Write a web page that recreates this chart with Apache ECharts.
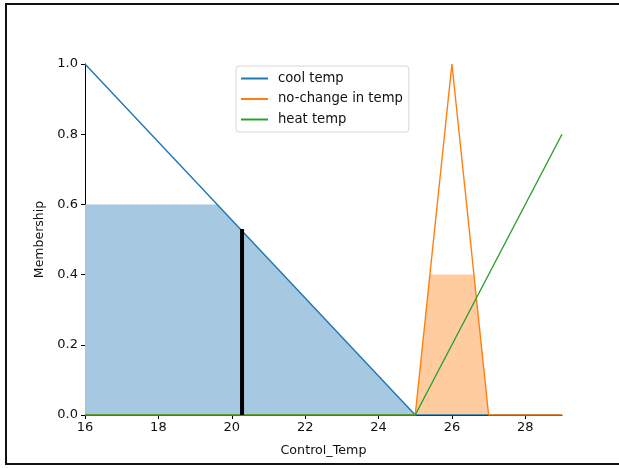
<!DOCTYPE html>
<html>
<head>
<meta charset="utf-8">
<script src="https://cdn.jsdelivr.net/npm/echarts@6/dist/echarts.min.js"></script>
<style>
  html, body { margin: 0; padding: 0; background: #fff; overflow: hidden; }
  #chart { width: 619px; height: 468px; }
</style>
</head>
<body>
<div id="chart"></div>
<script>
// membership functions of Control_Temp
var coolX = [16, 25, 29];
var coolY = [1, 0, 0];
var nochangeX = [16, 25, 26, 27, 29];
var nochangeY = [0, 0, 1, 0, 0];
var heatX = [16, 25, 29];
var heatY = [0, 0, 0.8];

// activated (clipped) areas
var coolFillX = [16, 19.6, 25];
var coolFillY = [0.6, 0.6, 0];
var nochangeFillX = [25, 25.4, 26.6, 27];
var nochangeFillY = [0, 0.4, 0.4, 0];

// defuzzified output
var crispX = 20.28;
var crispY = 0.53;

var xTicks = [16, 18, 20, 22, 24, 26, 28];
var yTicks = [0, 0.2, 0.4, 0.6, 0.8, 1.0];

function pairs(xs, ys) {
  return xs.map(function (x, i) { return [x, ys[i]]; });
}

var font = 'DejaVu Sans';
var chart = echarts.init(document.getElementById('chart'));

var option = {
  animation: false,
  textStyle: { fontFamily: font },
  grid: { left: 85, top: 64, width: 477, height: 351 },
  // figure frame (left, top and bottom edges only)
  graphic: [{
    type: 'polyline',
    silent: true,
    shape: { points: [[630, 4], [6, 4], [6, 464], [630, 464]] },
    style: { stroke: '#111', lineWidth: 2, fill: null }
  }],
  legend: {
    data: ['cool temp', 'no-change in temp', 'heat temp'],
    orient: 'vertical',
    left: 236,
    top: 66,
    itemWidth: 27,
    itemHeight: 2,
    itemGap: 7.5,
    icon: 'rect',
    padding: [6, 6, 6, 5],
    borderColor: '#d6d6d6',
    borderWidth: 1,
    borderRadius: 3,
    textStyle: { fontFamily: font, fontSize: 13.2, color: '#111', padding: [0, 0, 0, 5] }
  },
  xAxis: {
    type: 'value',
    min: 16, max: 29, interval: 2,
    name: 'Control_Temp',
    nameLocation: 'middle',
    nameGap: 29,
    nameTextStyle: { fontFamily: font, fontSize: 12.7, color: '#111' },
    splitLine: { show: false },
    axisLine: { show: true, onZero: false, lineStyle: { color: '#000', width: 1 } },
    axisTick: { show: true, length: 4, customValues: xTicks, lineStyle: { color: '#000' } },
    axisLabel: { customValues: xTicks, fontFamily: font, fontSize: 13, color: '#111', margin: 6 }
  },
  yAxis: {
    type: 'value',
    min: 0, max: 1, interval: 0.2,
    name: 'Membership',
    nameLocation: 'middle',
    nameRotate: 90,
    nameGap: 34,
    nameTextStyle: { fontFamily: font, fontSize: 12.5, color: '#111' },
    splitLine: { show: false },
    axisLine: { show: true, lineStyle: { color: '#000', width: 1 } },
    axisTick: { show: true, length: 4, customValues: yTicks, lineStyle: { color: '#000' } },
    axisLabel: {
      customValues: yTicks,
      fontFamily: font, fontSize: 13, color: '#111', margin: 7,
      formatter: function (v) { return v.toFixed(1); }
    }
  },
  series: [
    {
      name: 'cool fill', type: 'line', data: pairs(coolFillX, coolFillY),
      symbol: 'none', lineStyle: { width: 0 }, z: 1,
      areaStyle: { color: '#a6c8e0', opacity: 1 }
    },
    {
      name: 'no-change fill', type: 'line', data: pairs(nochangeFillX, nochangeFillY),
      symbol: 'none', lineStyle: { width: 0 }, z: 1,
      areaStyle: { color: '#ffcc9f', opacity: 1 }
    },
    {
      name: 'cool temp', type: 'line', data: pairs(coolX, coolY),
      symbol: 'none', color: '#1f77b4', lineStyle: { width: 1.4 }, z: 3
    },
    {
      name: 'no-change in temp', type: 'line', data: pairs(nochangeX, nochangeY),
      symbol: 'none', color: '#ff7f0e', lineStyle: { width: 1.4 }, z: 3
    },
    {
      name: 'heat temp', type: 'line', data: pairs(heatX, heatY),
      symbol: 'none', color: '#2ca02c', lineStyle: { width: 1.4 }, z: 3
    },
    {
      name: 'crisp', type: 'line', data: [[crispX, 0], [crispX, crispY]],
      symbol: 'none', color: '#000', lineStyle: { width: 4, cap: 'butt' }, z: 4
    }
  ]
};

chart.setOption(option);
</script>
</body>
</html>
